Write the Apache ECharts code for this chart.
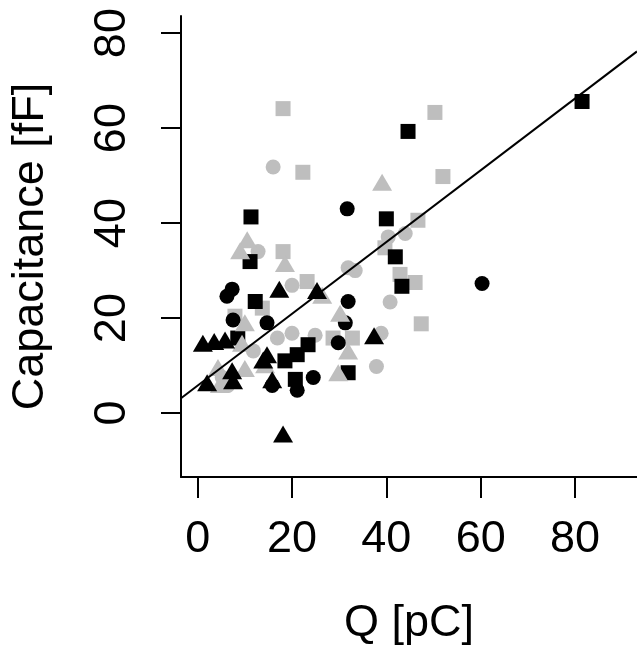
<!DOCTYPE html>
<html>
<head>
<meta charset="utf-8">
<script src="https://cdn.jsdelivr.net/npm/echarts@6/dist/echarts.min.js"></script>
<style>html,body{margin:0;padding:0;background:#fff;}#c{width:637px;height:651px;}</style>
</head>
<body>
<div id="c"></div>
<script>
// Tick labels
const xTicks = [0, 20, 40, 60, 80];
const yTicks = [0, 20, 40, 60, 80];

// Black squares [Q, C]
const blackSquares = [
  [81.5, 65.6], [44.6, 59.3], [40.0, 40.9], [11.3, 41.3], [11.1, 31.9],
  [41.9, 32.9], [43.3, 26.7], [12.2, 23.5], [8.5, 15.8], [23.4, 14.4],
  [21.1, 12.3], [18.5, 11.0], [20.7, 7.1], [31.9, 8.5]
];
// Gray squares
const graySquares = [
  [18.1, 64.1], [22.3, 50.7], [50.3, 63.3], [52.0, 49.8], [46.7, 40.6],
  [39.7, 34.8], [42.9, 29.2], [46.1, 27.5], [47.4, 18.8], [18.1, 34.0],
  [23.2, 27.7], [13.7, 22.1], [7.9, 20.4], [28.7, 15.8], [32.8, 15.8]
];
// Black circles
const blackCircles = [
  [31.7, 43.0], [60.3, 27.3], [7.3, 26.1], [6.2, 24.6], [7.5, 19.6],
  [14.7, 19.0], [31.9, 23.5], [31.3, 19.0], [29.8, 14.8], [24.5, 7.5],
  [21.1, 4.8], [15.8, 5.8]
];
// Gray circles
const grayCircles = [
  [16.0, 51.8], [40.4, 37.1], [44.0, 37.8], [12.8, 34.0], [20.0, 26.9],
  [33.4, 30.0], [31.9, 30.6], [40.8, 23.4], [20.0, 16.8], [24.9, 16.4],
  [38.9, 16.8], [37.9, 9.8], [11.8, 13.1], [6.4, 5.8], [5.2, 7.5], [16.9, 15.8]
];
// Black triangles
const blackTriangles = [
  [18.1, -4.4], [17.3, 26.1], [25.3, 25.8], [37.4, 16.3], [1.1, 14.7],
  [3.5, 15.1], [5.8, 15.4], [14.7, 12.3], [15.8, 7.0], [7.5, 6.8],
  [2.0, 6.4], [7.3, 8.9], [13.9, 11.2]
];
// Gray triangles
const grayTriangles = [
  [39.1, 48.6], [10.5, 36.5], [9.0, 34.2], [18.5, 31.5], [26.4, 24.8],
  [30.2, 21.0], [10.0, 19.0], [31.9, 13.1], [29.8, 8.5], [14.3, 10.2],
  [10.0, 9.4], [4.3, 9.6], [4.7, 6.0], [9.4, 14.7]
];
// Fitted line endpoints
const fitLine = [[-3.54, 3.14], [93.15, 76.15]];

const GRAY = '#bebebe';
const FONT = 'Liberation Sans, Arial, sans-serif';

function sc(name, data, symbol, size, color) {
  return { name, type: 'scatter', data, symbol, symbolSize: size,
    itemStyle: { color, opacity: 1 }, silent: true, animation: false };
}

const chart = echarts.init(document.getElementById('c'), null, { renderer: 'canvas' });
chart.setOption({
  backgroundColor: '#ffffff',
  animation: false,
  grid: { left: 181, top: 16, right: 0, bottom: 171, containLabel: false },
  xAxis: {
    type: 'value', min: -3.54, max: 93.15,
    name: 'Q [pC]', nameLocation: 'middle', nameGap: 124,
    nameTextStyle: { fontFamily: FONT, fontSize: 45, color: '#000' },
    axisLine: { show: true, onZero: false, lineStyle: { color: '#000', width: 2 } },
    axisTick: { show: true, inside: false, length: 21, customValues: xTicks, lineStyle: { color: '#000', width: 2 } },
    axisLabel: { customValues: xTicks, margin: 40, fontFamily: FONT, fontSize: 45, color: '#000' },
    splitLine: { show: false }
  },
  yAxis: {
    type: 'value', min: -13.45, max: 83.6,
    name: 'Capacitance [fF]', nameLocation: 'middle', nameGap: 128, nameRotate: 90,
    nameTextStyle: { fontFamily: FONT, fontSize: 45, color: '#000' },
    axisLine: { show: true, onZero: false, lineStyle: { color: '#000', width: 2 } },
    axisTick: { show: true, inside: false, length: 20, customValues: yTicks, lineStyle: { color: '#000', width: 2 } },
    axisLabel: { customValues: yTicks, rotate: 90, margin: 46, fontFamily: FONT, fontSize: 45, color: '#000' },
    splitLine: { show: false }
  },
  series: [
    sc('gray circles', grayCircles, 'circle', 15, GRAY),
    sc('gray squares', graySquares, 'rect', 15, GRAY),
    sc('black circles', blackCircles, 'circle', 15, '#000'),
    sc('black squares', blackSquares, 'rect', 15, '#000'),
    sc('gray triangles', grayTriangles, 'triangle', [20, 17], GRAY),
    sc('black triangles', blackTriangles, 'triangle', [20, 17], '#000'),
    { name: 'fit', type: 'line', data: fitLine, symbol: 'none', silent: true,
      lineStyle: { color: '#000', width: 2 }, animation: false, z: 5 }
  ]
});
</script>
</body>
</html>
